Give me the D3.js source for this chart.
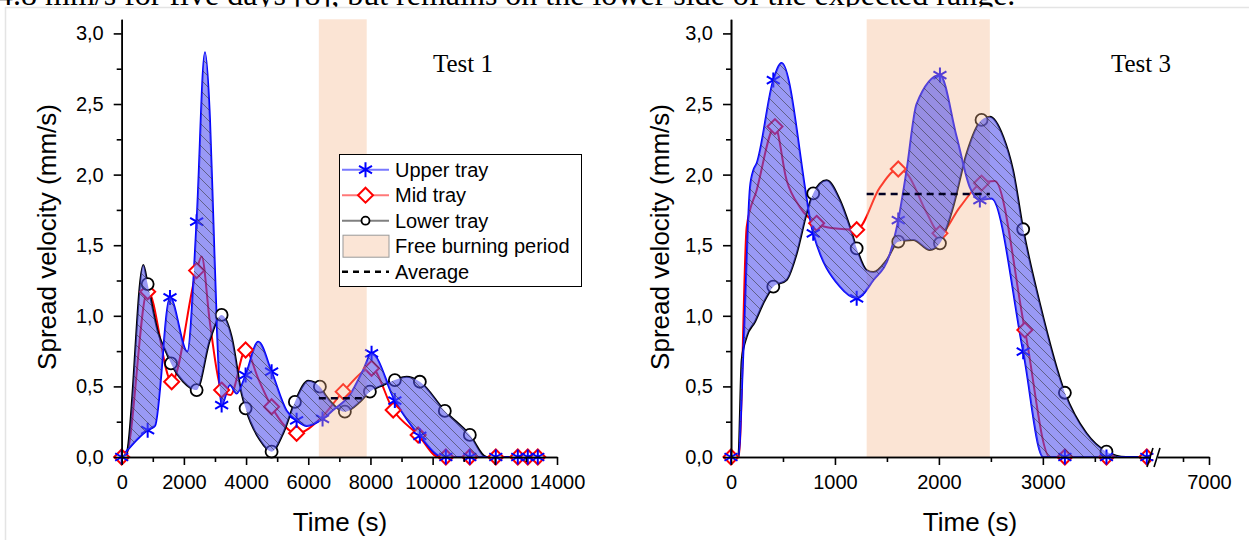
<!DOCTYPE html>
<html><head><meta charset="utf-8">
<script src="https://cdn.jsdelivr.net/npm/d3@7"></script>
<style>body{margin:0;background:#fff;} svg{display:block;}</style>
</head><body>
<svg id="c" width="1249" height="540"></svg>
<script>
// ================= DATA =================
const yTicksMajor = [0, 0.5, 1, 1.5, 2, 2.5, 3];
const yTicksMinor = [0.25, 0.75, 1.25, 1.75, 2.25, 2.75];
const x1TicksMajor = [0, 2000, 4000, 6000, 8000, 10000, 12000, 14000];
const x1TicksMinor = [1000, 3000, 5000, 7000, 9000, 11000, 13000];
const x2TicksMajor = [0, 1000, 2000, 3000, 7000];
const x2TicksMinor = [500, 1500, 2500, 3500, 6500];
const legendLabels = ["Upper tray", "Mid tray", "Lower tray", "Free burning period", "Average"];
const panelTitles = ["Test 1", "Test 3"];
const headerText = "4.8 mm/s for five days [8], but remains on the lower side of the expected range.";

// ---- Test 1 : smoothed curves (time s, velocity mm/s)
const t1UpperT = [0, 835, 1070, 1553, 2110, 2410, 2678, 2838, 2946, 3053, 3214, 3481, 3696, 3985, 4391, 4821, 5300, 5625, 5950, 6460, 6803, 7338, 7766, 8036, 8785, 9589, 10338, 13400];
const t1UpperV = [0, 0.19, 0.22, 1.13, 0.746, 1.667, 2.866, 2.39, 1.68, 0.97, 0.368, 0.51, 0.45, 0.58, 0.817, 0.604, 0.33, 0.26, 0.22, 0.27, 0.333, 0.44, 0.616, 0.734, 0.40, 0.149, 0, 0];
const t1MidT = [0, 150, 835, 1607, 2410, 2571, 2838, 3214, 3500, 3985, 4400, 4821, 5625, 6428, 7124, 8036, 8731, 9534, 10200, 13400];
const t1MidV = [0, 0.02, 1.18, 0.533, 1.32, 1.42, 0.95, 0.474, 0.44, 0.758, 0.55, 0.356, 0.168, 0.28, 0.463, 0.628, 0.333, 0.156, 0, 0];
const t1LowerT = [0, 150, 695, 835, 1177, 1446, 1585, 1981, 2410, 2838, 3214, 3536, 3857, 3985, 4445, 4821, 5195, 5570, 6000, 6374, 6590, 7177, 7660, 7982, 8410, 8785, 9161, 9589, 10392, 11196, 11733, 13400];
const t1LowerV = [0, 0.02, 1.36, 1.225, 0.876, 0.734, 0.663, 0.533, 0.474, 0.829, 1.006, 0.852, 0.45, 0.345, 0.12, 0.038, 0.168, 0.39, 0.54, 0.498, 0.427, 0.321, 0.39, 0.463, 0.51, 0.545, 0.569, 0.533, 0.326, 0.156, 0, 0];
// ---- Test 1 : measured points (markers)
const t1UpperMT = [0, 835, 1553, 2410, 3214, 3985, 4821, 5625, 6460, 8036, 8785, 9589, 10425, 11196, 12032, 12739, 13060, 13382];
const t1UpperMV = [0, 0.19, 1.13, 1.667, 0.368, 0.58, 0.604, 0.26, 0.27, 0.734, 0.40, 0.149, 0, 0, 0, 0, 0, 0];
const t1MidMT = [0, 835, 1607, 2410, 3214, 3985, 4821, 5625, 7124, 8036, 8731, 9534, 10425, 11196, 12032, 12739, 13060, 13382];
const t1MidMV = [0, 1.17, 0.533, 1.32, 0.474, 0.758, 0.356, 0.168, 0.463, 0.628, 0.333, 0.156, 0, 0, 0, 0, 0, 0];
const t1LowerMT = [835, 1585, 2410, 3214, 3985, 4821, 5570, 6374, 7177, 7982, 8785, 9589, 10392, 11196];
const t1LowerMV = [1.225, 0.663, 0.474, 1.006, 0.345, 0.038, 0.39, 0.498, 0.321, 0.463, 0.545, 0.533, 0.326, 0.156];
const t1Free = [6340, 7880];
const t1Average = 0.416;

// ---- Test 3 : smoothed curves
const t3UpperT = [0, 70, 118, 183, 215, 247, 407, 487, 791, 1048, 1209, 1368, 1529, 1609, 1689, 1785, 2010, 2170, 2298, 2394, 2506, 2811, 3003, 4020];
const t3UpperV = [0, 0, 0.73, 1.91, 2.03, 2.08, 2.67, 2.79, 1.584, 1.206, 1.124, 1.25, 1.44, 1.678, 2.03, 2.5, 2.705, 2.27, 1.91, 1.82, 1.83, 0.746, 0, 0];
const t3MidT = [0, 75, 151, 247, 423, 535, 663, 824, 984, 1209, 1433, 1609, 1689, 1882, 2010, 2202, 2410, 2538, 2827, 3067, 4020];
const t3MidV = [0, 0, 1.63, 1.89, 2.34, 1.96, 1.77, 1.655, 1.62, 1.61, 1.91, 2.04, 2.01, 1.73, 1.584, 1.77, 1.94, 1.955, 0.9, 0, 0];
const t3LowerT = [0, 70, 103, 151, 231, 311, 407, 535, 632, 728, 791, 920, 1048, 1144, 1209, 1305, 1370, 1497, 1609, 1753, 1913, 2010, 2138, 2266, 2410, 2490, 2618, 2714, 2811, 2971, 3212, 3420, 3612, 3800, 4020];
const t3LowerV = [0, 0, 0.687, 0.852, 0.958, 1.089, 1.206, 1.254, 1.44, 1.726, 1.867, 1.96, 1.82, 1.63, 1.478, 1.324, 1.31, 1.395, 1.525, 1.537, 1.466, 1.513, 1.773, 2.15, 2.387, 2.41, 2.27, 2.03, 1.613, 1.088, 0.455, 0.168, 0.038, 0, 0];
// ---- Test 3 : measured points (markers)
const t3UpperMT = [0, 407, 791, 1209, 1609, 2010, 2394, 2811, 3212, 3612, 4000];
const t3UpperMV = [0, 2.67, 1.584, 1.124, 1.678, 2.705, 1.82, 0.746, 0, 0, 0];
const t3MidMT = [0, 423, 824, 1209, 1609, 2010, 2410, 2827, 3212, 3612, 4000];
const t3MidMV = [0, 2.34, 1.655, 1.61, 2.04, 1.584, 1.94, 0.9, 0, 0, 0];
const t3LowerMT = [407, 791, 1209, 1609, 2010, 2410, 2811, 3212, 3612];
const t3LowerMV = [1.206, 1.867, 1.478, 1.525, 1.513, 2.387, 1.613, 0.455, 0.038];
const t3Free = [1305, 2490];
const t3Average = 1.863;

// ================= DRAWING =================
const zip = (t, v) => t.map((d, i) => [d, v[i]]);
const svg = d3.select("#c");
const FONT = "'Liberation Sans', Arial, sans-serif";
const SERIF = "'Liberation Serif', 'Times New Roman', serif";

// embedded-figure frame and the cut line of body text above it
svg.append("text").attr("x", -3).attr("y", 5).attr("font-family", SERIF).attr("font-size", 32)
  .attr("fill", "#000").text(headerText);
svg.append("rect").attr("x", 0).attr("y", 7).attr("width", 1249).attr("height", 533).attr("fill", "#fff");
svg.append("rect").attr("x", 5.5).attr("y", 7.5).attr("width", 1400).attr("height", 700)
  .attr("fill", "none").attr("stroke", "#e4e4e4").attr("stroke-width", 1.5);

const defs = svg.append("defs");
const pat = defs.append("pattern").attr("id", "hatch").attr("patternUnits", "userSpaceOnUse")
  .attr("width", 11).attr("height", 11);
pat.append("path").attr("d", "M-1,-1 L12,12 M9,-2 L13,2 M-2,9 L2,13")
  .attr("stroke", "#333").attr("stroke-width", 0.8).attr("stroke-opacity", 0.7);

const y = d3.scaleLinear().domain([0, 3.1]).range([457, 19.3]);
const yFmt = d => d3.format(".1f")(d).replace(".", ",");

function asterisk(g, cx, cy, r, color) {
  const p = d3.path();
  [90, 30, 150].forEach(a => {
    const rad = a * Math.PI / 180, dx = r * Math.cos(rad), dy = r * Math.sin(rad);
    p.moveTo(cx - dx, cy - dy); p.lineTo(cx + dx, cy + dy);
  });
  g.append("path").attr("d", p.toString()).attr("stroke", color).attr("stroke-width", 2).attr("fill", "none");
}
function diamond(g, cx, cy, r, color) {
  g.append("path").attr("d", `M${cx},${cy - r}L${cx + r},${cy}L${cx},${cy + r}L${cx - r},${cy}Z`)
    .attr("stroke", color).attr("stroke-width", 2).attr("fill", "#fff");
}
function circ(g, cx, cy, r, color) {
  g.append("circle").attr("cx", cx).attr("cy", cy).attr("r", r)
    .attr("stroke", color).attr("stroke-width", 1.8).attr("fill", "#fff");
}

function panel(cfg) {
  const { x, upper, mid, lower, upperM, midM, lowerM, free, avg, xMajor, xMinor, title, titleX, xTitleX, yTitleX, brk } = cfg;
  const g = svg.append("g");
  const line = d3.line().x(d => x(d[0])).y(d => y(d[1])).curve(d3.curveMonotoneX);
  const area = d3.area().x(d => x(d[0])).y0(y(0)).y1(d => y(d[1])).curve(d3.curveMonotoneX);

  // series lines
  g.append("path").attr("d", line(mid)).attr("fill", "none").attr("stroke", "#ff0000").attr("stroke-width", 2);
  g.append("path").attr("d", line(lower)).attr("fill", "none").attr("stroke", "#000").attr("stroke-width", 2);
  g.append("path").attr("d", line(upper)).attr("fill", "none").attr("stroke", "#0000ff").attr("stroke-width", 2);

  // markers
  midM.forEach(d => diamond(g, x(d[0]), y(d[1]), 7.5, "#ff0000"));
  lowerM.forEach(d => circ(g, x(d[0]), y(d[1]), 6, "#000"));
  upperM.forEach(d => asterisk(g, x(d[0]), y(d[1]), 7.5, "#0000ff"));

  // free burning period (translucent)
  g.append("rect").attr("x", x(free[0])).attr("y", y(3.1)).attr("width", x(free[1]) - x(free[0]))
    .attr("height", y(0) - y(3.1)).attr("fill", "#f4b183").attr("fill-opacity", 0.35);

  // fill between upper and lower (even-odd of the two areas), drawn over everything
  const between = area(upper) + area(lower);
  g.append("path").attr("d", between).attr("fill", "#5050ee").attr("fill-opacity", 0.58).attr("fill-rule", "evenodd");
  g.append("path").attr("d", between).attr("fill", "url(#hatch)").attr("fill-rule", "evenodd");

  // average
  g.append("line").attr("x1", x(free[0])).attr("x2", x(free[1])).attr("y1", y(avg)).attr("y2", y(avg))
    .attr("stroke", "#000022").attr("stroke-width", 2.5).attr("stroke-dasharray", "7,5");

  // axes
  const styleAxis = a => {
    a.attr("font-family", FONT).attr("font-size", 20);
    a.selectAll("path,line").attr("stroke", "#000").attr("stroke-width", 1.6);
    a.selectAll("text").attr("fill", "#000");
  };
  const yx = x.range()[0];
  const ya = g.append("g").attr("transform", `translate(${yx},0)`)
    .call(d3.axisLeft(y).tickValues(yTicksMajor).tickFormat(yFmt).tickSize(8).tickPadding(10).tickSizeOuter(0));
  styleAxis(ya);
  const ym = g.append("g").attr("transform", `translate(${yx},0)`)
    .call(d3.axisLeft(y).tickValues(yTicksMinor).tickFormat("").tickSize(5).tickSizeOuter(0));
  styleAxis(ym);
  const xa = g.append("g").attr("transform", `translate(0,${y(0)})`)
    .call(d3.axisBottom(x).tickValues(xMajor).tickFormat(d3.format("d")).tickSize(8).tickPadding(10).tickSizeOuter(0));
  styleAxis(xa);
  const xm = g.append("g").attr("transform", `translate(0,${y(0)})`)
    .call(d3.axisBottom(x).tickValues(xMinor).tickFormat("").tickSize(5).tickSizeOuter(0));
  styleAxis(xm);

  if (brk) {
    const bx = brk;
    g.append("rect").attr("x", bx - 3).attr("y", y(0) - 2).attr("width", 7).attr("height", 4).attr("fill", "#fff");
    [-4, 3].forEach(o => g.append("line").attr("x1", bx + o - 3).attr("y1", y(0) + 10).attr("x2", bx + o + 3).attr("y2", y(0) - 9)
      .attr("stroke", "#000").attr("stroke-width", 1.6));
  }

  g.append("text").attr("x", xTitleX).attr("y", 531).attr("text-anchor", "middle")
    .attr("font-family", FONT).attr("font-size", 26).text("Time (s)");
  g.append("text").attr("transform", `translate(${yTitleX},237) rotate(-90)`).attr("text-anchor", "middle")
    .attr("dy", "0.35em").attr("font-family", FONT).attr("font-size", 26).text("Spread velocity (mm/s)");
  g.append("text").attr("x", titleX).attr("y", 72).attr("text-anchor", "middle")
    .attr("font-family", SERIF).attr("font-size", 25).text(title);
  return g;
}

const x1 = d3.scaleLinear().domain([0, 14000]).range([121.7, 557]);
const x2 = d3.scaleLinear().domain([0, 4050, 6000, 7000]).range([731, 1152, 1157, 1209]);

panel({ x: x1, upper: zip(t1UpperT, t1UpperV), mid: zip(t1MidT, t1MidV), lower: zip(t1LowerT, t1LowerV),
  upperM: zip(t1UpperMT, t1UpperMV), midM: zip(t1MidMT, t1MidMV), lowerM: zip(t1LowerMT, t1LowerMV),
  free: t1Free, avg: t1Average, xMajor: x1TicksMajor, xMinor: x1TicksMinor,
  title: panelTitles[0], titleX: 463, xTitleX: 340, yTitleX: 47 });
panel({ x: x2, upper: zip(t3UpperT, t3UpperV), mid: zip(t3MidT, t3MidV), lower: zip(t3LowerT, t3LowerV),
  upperM: zip(t3UpperMT, t3UpperMV), midM: zip(t3MidMT, t3MidMV), lowerM: zip(t3LowerMT, t3LowerMV),
  free: t3Free, avg: t3Average, xMajor: x2TicksMajor, xMinor: x2TicksMinor,
  title: panelTitles[1], titleX: 1141, xTitleX: 970, yTitleX: 660, brk: 1154 });

// legend (Test 1)
const lg = svg.append("g");
lg.append("rect").attr("x", 339.5).attr("y", 154.5).attr("width", 242).attr("height", 132)
  .attr("fill", "#fff").attr("stroke", "#000").attr("stroke-width", 1);
const rowY = i => 169.7 + i * 25.5;
const lx0 = 342, lx1 = 389, lmx = 365.5;
lg.append("line").attr("x1", lx0).attr("x2", lx1).attr("y1", rowY(0)).attr("y2", rowY(0)).attr("stroke", "#7878ff").attr("stroke-width", 2);
asterisk(lg, lmx, rowY(0), 7.5, "#0000ff");
lg.append("line").attr("x1", lx0).attr("x2", lx1).attr("y1", rowY(1)).attr("y2", rowY(1)).attr("stroke", "#ff7878").attr("stroke-width", 2);
diamond(lg, lmx, rowY(1), 7.5, "#ff0000");
lg.append("line").attr("x1", lx0).attr("x2", lx1).attr("y1", rowY(2)).attr("y2", rowY(2)).attr("stroke", "#808080").attr("stroke-width", 2);
circ(lg, lmx, rowY(2), 4, "#000");
lg.append("rect").attr("x", 343).attr("y", rowY(3) - 11).attr("width", 46).attr("height", 22)
  .attr("fill", "#fbe5d6").attr("stroke", "#999").attr("stroke-width", 1);
lg.append("line").attr("x1", lx0).attr("x2", lx1).attr("y1", rowY(4)).attr("y2", rowY(4)).attr("stroke", "#000").attr("stroke-width", 2.5).attr("stroke-dasharray", "6,5");
legendLabels.forEach((t, i) => lg.append("text").attr("x", 395).attr("y", rowY(i)).attr("dy", "0.35em")
  .attr("font-family", FONT).attr("font-size", 20).attr("fill", "#000").text(t));
</script>
</body></html>
